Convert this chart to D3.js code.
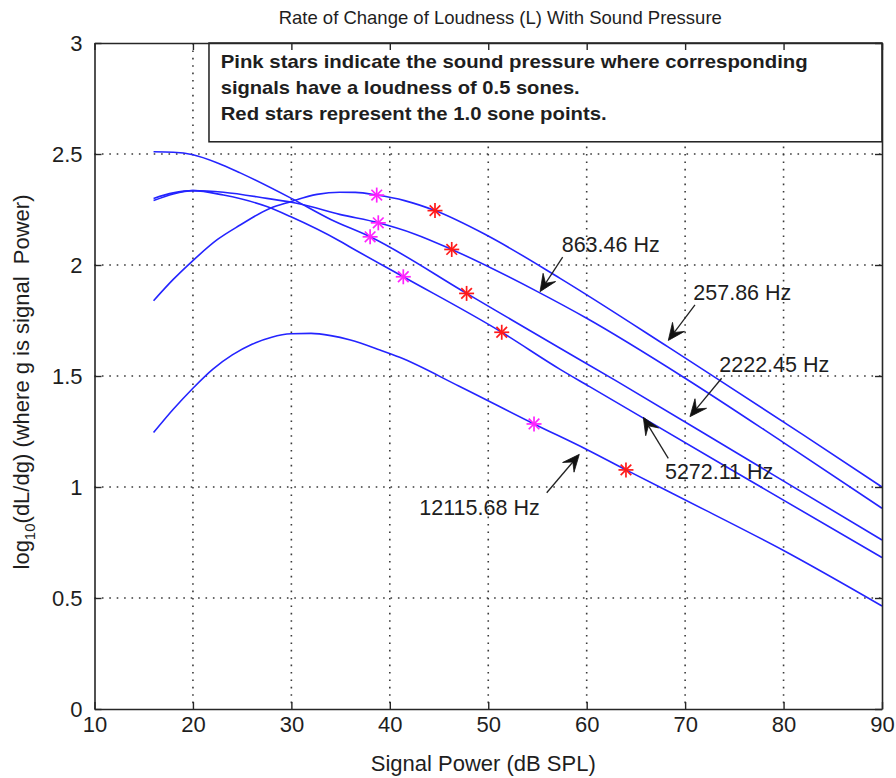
<!DOCTYPE html>
<html>
<head>
<meta charset="utf-8">
<script src="https://cdn.jsdelivr.net/npm/d3@7"></script>
<style>
  body { margin: 0; background: #fff; }
  svg { display: block; }
  text { font-family: "Liberation Sans", Arial, Helvetica, sans-serif; fill: #1e1e1e; }
</style>
</head>
<body>
<svg id="chart" width="896" height="778"></svg>
<script>
// ---- axis ticks ----
const xTicks = [10, 20, 30, 40, 50, 60, 70, 80, 90];
const yTicks = [0, 0.5, 1, 1.5, 2, 2.5, 3];
const yTickLabels = ["0", "0.5", "1", "1.5", "2", "2.5", "3"];

// ---- log10(dL/dg) against signal power (dB SPL), one curve per frequency ----
const spl257 = [16, 18, 20, 22.5, 24.8, 27.8, 29.9, 32.6, 34.9, 36.5, 38.67, 41.5, 44.59, 49.8, 57.3, 68.3, 73.7, 82, 90];
const val257 = [1.839, 1.935, 2.02, 2.115, 2.18, 2.255, 2.285, 2.318, 2.328, 2.327, 2.315, 2.29, 2.245, 2.135, 1.94, 1.63, 1.475, 1.235, 1.0];

const spl863 = [16, 18, 20, 23.1, 27.5, 30.9, 34.9, 38.83, 42.5, 46.29, 55, 60, 70, 80, 90];
const val863 = [2.30, 2.325, 2.335, 2.328, 2.30, 2.275, 2.228, 2.19, 2.14, 2.07, 1.88, 1.76, 1.49, 1.20, 0.904];

const spl2222 = [16, 18, 20, 22.5, 24.8, 30, 34, 38.0, 47.8, 57.3, 63, 75, 90];
const val2222 = [2.51, 2.508, 2.497, 2.46, 2.415, 2.30, 2.205, 2.127, 1.872, 1.625, 1.478, 1.16, 0.761];

const spl5272 = [16, 18, 20, 23.1, 27.5, 29.9, 34.9, 36, 41.37, 51.37, 57.3, 60.3, 75, 90];
const val5272 = [2.29, 2.32, 2.335, 2.315, 2.263, 2.218, 2.108, 2.08, 1.947, 1.697, 1.53, 1.452, 1.07, 0.682];

const spl12115 = [16, 18, 20, 22, 24, 26, 28, 30, 32, 34, 36, 39, 41, 47, 54.65, 60, 63.99, 72, 80, 90];
const val12115 = [1.245, 1.35, 1.445, 1.53, 1.595, 1.643, 1.675, 1.69, 1.692, 1.682, 1.662, 1.617, 1.584, 1.455, 1.284, 1.169, 1.077, 0.897, 0.714, 0.464];

// ---- loudness markers: 0.5 sone (pink) and 1.0 sone (red) ----
const halfSoneX = [38.67, 38.83, 38.0, 41.37, 54.65];
const halfSoneY = [2.315, 2.19, 2.127, 1.947, 1.284];
const oneSoneX = [44.59, 46.29, 47.8, 51.37, 63.99];
const oneSoneY = [2.245, 2.07, 1.872, 1.697, 1.077];

// ---- frequency labels and their arrows (data coordinates) ----
const freqLabels = ["863.46 Hz", "257.86 Hz", "2222.45 Hz", "5272.11 Hz", "12115.68 Hz"];
const labelX = [57.46, 70.83, 73.47, 67.95, 43.0];
const labelY = [2.06, 1.842, 1.519, 1.036, 0.874];
const arrowTailX = [57.56, 71.0, 73.71, 68.29, 55.94];
const arrowTailY = [2.035, 1.82, 1.49, 1.129, 0.974];
const arrowTipX = [55.26, 68.29, 70.49, 65.75, 59.25];
const arrowTipY = [1.88, 1.66, 1.317, 1.314, 1.147];

// ---- note box ----
const noteLines = [
  "Pink stars indicate the sound pressure where corresponding",
  "signals have a loudness of 0.5 sones.",
  "Red stars represent the 1.0 sone points."
];
const noteWidths = [587, 359, 386];
const noteBox = { x0: 21.63, x1: 90, y0: 2.555, y1: 3 };
const noteTextX = 22.82;
const noteTextY = [2.886, 2.769, 2.653];

const titleText = "Rate of Change of Loudness (L) With Sound Pressure";
const xLabelText = "Signal Power (dB SPL)";

// ---- layout ----
const svg = d3.select("#chart");
const W = 896, H = 778;
const plot = { left: 94.5, right: 882, top: 43, bottom: 709 };

const x = d3.scaleLinear().domain([10, 90]).range([plot.left, plot.right]);
const y = d3.scaleLinear().domain([0, 3]).range([plot.bottom, plot.top]);

svg.append("rect").attr("width", W).attr("height", H).attr("fill", "#fff");

// dotted grid
const grid = svg.append("g").attr("class", "grid");
grid.selectAll("line.gx").data(xTicks.slice(1, -1)).join("line")
  .attr("x1", d => x(d)).attr("x2", d => x(d))
  .attr("y1", plot.top).attr("y2", plot.bottom)
  .attr("stroke", "#3a3a3a").attr("stroke-width", 1.6)
  .attr("stroke-dasharray", "1.6,5.8");
grid.selectAll("line.gy").data(yTicks.slice(1, -1)).join("line")
  .attr("x1", plot.left).attr("x2", plot.right)
  .attr("y1", d => y(d)).attr("y2", d => y(d))
  .attr("stroke", "#3a3a3a").attr("stroke-width", 1.6)
  .attr("stroke-dasharray", "1.6,5.8");

// note box (white fill hides the grid behind it)
svg.append("rect")
  .attr("x", x(noteBox.x0)).attr("y", y(noteBox.y1))
  .attr("width", x(noteBox.x1) - x(noteBox.x0))
  .attr("height", y(noteBox.y0) - y(noteBox.y1))
  .attr("fill", "#fff").attr("stroke", "#1e1e1e").attr("stroke-width", 1.5);
svg.selectAll("text.note").data(noteLines).join("text")
  .attr("class", "note")
  .attr("x", x(noteTextX))
  .attr("y", (d, i) => y(noteTextY[i]))
  .attr("font-size", 19).attr("font-weight", "bold")
  .attr("textLength", (d, i) => noteWidths[i])
  .attr("lengthAdjust", "spacingAndGlyphs")
  .attr("fill", "#111")
  .text(d => d);

// curves
const series = [
  [spl257, val257], [spl863, val863], [spl2222, val2222],
  [spl5272, val5272], [spl12115, val12115]
].map(([xs, ys]) => xs.map((v, i) => [v, ys[i]]));

const line = d3.line().x(d => x(d[0])).y(d => y(d[1])).curve(d3.curveMonotoneX);
svg.append("g").selectAll("path").data(series).join("path")
  .attr("d", line)
  .attr("fill", "none").attr("stroke", "#2424ff").attr("stroke-width", 1.6);

// asterisk markers
function star(g, cx, cy, color) {
  const a = 7.5, b = 5.3;
  const s = g.append("g").attr("stroke", color).attr("stroke-width", 1.7);
  s.append("line").attr("x1", cx).attr("x2", cx).attr("y1", cy - a).attr("y2", cy + a);
  s.append("line").attr("x1", cx - a).attr("x2", cx + a).attr("y1", cy).attr("y2", cy);
  s.append("line").attr("x1", cx - b).attr("x2", cx + b).attr("y1", cy - b).attr("y2", cy + b);
  s.append("line").attr("x1", cx - b).attr("x2", cx + b).attr("y1", cy + b).attr("y2", cy - b);
}
const stars = svg.append("g");
halfSoneX.forEach((v, i) => star(stars, x(v), y(halfSoneY[i]), "#ff22ff"));
oneSoneX.forEach((v, i) => star(stars, x(v), y(oneSoneY[i]), "#ff1a1a"));

// arrows with barbed heads
const arrows = svg.append("g");
freqLabels.forEach((lab, i) => {
  const tx = x(arrowTailX[i]), ty = y(arrowTailY[i]);
  const hx = x(arrowTipX[i]), hy = y(arrowTipY[i]);
  const dx = hx - tx, dy = hy - ty, len = Math.hypot(dx, dy);
  const ux = dx / len, uy = dy / len, px = -uy, py = ux;
  const L = 17, Wd = 7.5, notch = 10;
  const bx = hx - ux * L, by = hy - uy * L;
  const nx = hx - ux * notch, ny = hy - uy * notch;
  arrows.append("line")
    .attr("x1", tx).attr("y1", ty).attr("x2", nx).attr("y2", ny)
    .attr("stroke", "#222").attr("stroke-width", 1.3);
  arrows.append("path")
    .attr("d", `M${hx},${hy}L${bx + px * Wd},${by + py * Wd}L${nx},${ny}L${bx - px * Wd},${by - py * Wd}Z`)
    .attr("fill", "#111").attr("stroke", "#111").attr("stroke-width", 0.8);
  svg.append("text")
    .attr("x", x(labelX[i])).attr("y", y(labelY[i]))
    .attr("font-size", 21.5).attr("fill", "#2a2a2a")
    .text(lab);
});

// axes: box frame with inward ticks on all sides
const tickLen = 7;
const axB = svg.append("g").attr("transform", `translate(0,${plot.bottom})`)
  .call(d3.axisBottom(x).tickValues(xTicks).tickSizeInner(-tickLen).tickSizeOuter(0).tickPadding(7));
const axT = svg.append("g").attr("transform", `translate(0,${plot.top})`)
  .call(d3.axisTop(x).tickValues(xTicks).tickSizeInner(-tickLen).tickSizeOuter(0).tickFormat(""));
const axL = svg.append("g").attr("transform", `translate(${plot.left},0)`)
  .call(d3.axisLeft(y).tickValues(yTicks).tickSizeInner(-tickLen).tickSizeOuter(0).tickPadding(12)
    .tickFormat((d, i) => yTickLabels[i]));
const axR = svg.append("g").attr("transform", `translate(${plot.right},0)`)
  .call(d3.axisRight(y).tickValues(yTicks).tickSizeInner(-tickLen).tickSizeOuter(0).tickFormat(""));

[axB, axT, axL, axR].forEach(a => {
  a.select(".domain").attr("stroke", "#262626").attr("stroke-width", 1.6);
  a.selectAll(".tick line").attr("stroke", "#262626").attr("stroke-width", 1.4);
  a.selectAll(".tick text").attr("font-size", 22).attr("fill", "#222")
    .attr("font-family", "\"Liberation Sans\", Arial, sans-serif");
});

// titles
svg.append("text")
  .attr("x", (plot.left + plot.right) / 2 + 12).attr("y", 24)
  .attr("text-anchor", "middle").attr("font-size", 18.5).attr("fill", "#2a2a2a")
  .text(titleText);

svg.append("text")
  .attr("x", (plot.left + plot.right) / 2 - 5).attr("y", 771)
  .attr("text-anchor", "middle").attr("font-size", 22).attr("fill", "#2a2a2a")
  .text(xLabelText);

const yl = svg.append("text")
  .attr("transform", `translate(29,${(plot.top + plot.bottom) / 2 + 6}) rotate(-90)`)
  .attr("text-anchor", "middle").attr("font-size", 22).attr("fill", "#2a2a2a")
  .style("white-space", "pre");
yl.append("tspan").text("log");
yl.append("tspan").attr("font-size", 15).attr("dy", 6).text("10");
yl.append("tspan").attr("dy", -6).text("(dL/dg) (where g is signal  Power)");
</script>
</body>
</html>
